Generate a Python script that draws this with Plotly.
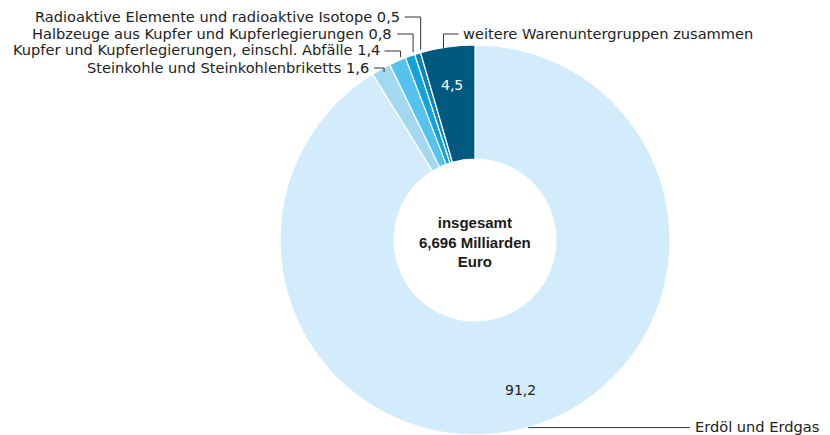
import math
import plotly.graph_objects as go

# Data (clockwise from 12 o'clock)
categories = [
    "Erdöl und Erdgas",
    "Steinkohle und Steinkohlenbriketts",
    "Kupfer und Kupferlegierungen, einschl. Abfälle",
    "Halbzeuge aus Kupfer und Kupferlegierungen",
    "Radioaktive Elemente und radioaktive Isotope",
    "weitere Warenuntergruppen zusammen",
]
values = [91.2, 1.6, 1.4, 0.8, 0.5, 4.5]
value_labels = ["91,2", "1,6", "1,4", "0,8", "0,5", "4,5"]
colors = ["#d2ecfc", "#a2d9f1", "#58c2ee", "#12a2dc", "#0a86b8", "#005a80"]
center_text = "insgesamt<br>6,696 Milliarden<br>Euro"

W, H = 830, 435
CX, CY, R = 475, 240, 195
HOLE = 0.415
FONT = "DejaVu Sans, Liberation Sans, sans-serif"
BFONT = "Liberation Sans, Arial, sans-serif"
FS = 14.6
TXT = "#222222"

fig = go.Figure(go.Pie(
    labels=categories, values=values, sort=False,
    direction="clockwise", rotation=0,
    hole=HOLE, textinfo="none", hoverinfo="label+value",
    marker=dict(colors=colors, line=dict(color="white", width=1.2)),
    domain=dict(x=[(CX - R) / W, (CX + R) / W], y=[1 - (CY + R) / H, 1 - (CY - R) / H]),
    showlegend=False,
))

total = sum(values)
mids = []
cum = 0
for v in values:
    mids.append((cum + v / 2) / total * 2 * math.pi)
    cum += v


def pt(ang, r):
    # clockwise from 12 o'clock, pixel coords
    return CX + r * math.sin(ang), CY - r * math.cos(ang)


def px(x):
    return x / W


def py(y):
    return 1 - y / H


annotations = []
shapes = []

# center text
annotations.append(dict(x=px(CX), y=py(CY + 2), xref="paper", yref="paper", text="<b>" + center_text + "</b>",
                        showarrow=False, font=dict(family=BFONT, size=15, color="#1a1a1a"), align="center"))

# inner value labels
for i, col in [(5, "white"), (0, TXT)]:
    x, y = pt(mids[i], 0.855 * R)
    annotations.append(dict(x=px(x), y=py(y), xref="paper", yref="paper", text=value_labels[i],
                            showarrow=False, font=dict(family=FONT, size=14, color=col)))

line_col = "#333333"

# left labels for small slices
label_y = {4: 16, 3: 33, 2: 50, 1: 67}
for i in [1, 2, 3, 4]:
    ax, ay = pt(mids[i], R)
    ly = label_y[i]
    vx = ax + 3
    tx_end = vx - 20 if i != 1 else vx - 14
    annotations.append(dict(x=px(tx_end), y=py(ly), xref="paper", yref="paper",
                            text=categories[i] + " " + value_labels[i], showarrow=False,
                            xanchor="right", yanchor="middle", borderpad=0,
                            font=dict(family=FONT, size=FS, color=TXT)))
    path = f"M {px(tx_end + 4)} {py(ly + 1)} L {px(vx)} {py(ly + 1)} L {px(vx)} {py(ay - 4 if i != 1 else ly + 5)}"
    shapes.append(dict(type="path", xref="paper", yref="paper", path=path,
                       line=dict(color=line_col, width=1)))

# weitere label
ax, ay = pt(mids[5], R)
vx = ax - 4
ly = 34
annotations.append(dict(x=px(vx + 18), y=py(ly), xref="paper", yref="paper",
                        text=categories[5], showarrow=False, xanchor="left", yanchor="middle", borderpad=0,
                        font=dict(family=FONT, size=FS, color=TXT)))
shapes.append(dict(type="path", xref="paper", yref="paper",
                   path=f"M {px(vx + 15)} {py(ly)} L {px(vx)} {py(ly)} L {px(vx)} {py(ay + 1)}",
                   line=dict(color=line_col, width=1)))

# Erdöl label
ax, ay = pt(mids[0], R)
shapes.append(dict(type="line", xref="paper", yref="paper", x0=px(ax), y0=py(ay), x1=px(690), y1=py(ay),
                   line=dict(color=line_col, width=1)))
annotations.append(dict(x=px(694), y=py(ay - 1), xref="paper", yref="paper", text=categories[0],
                        showarrow=False, xanchor="left", yanchor="middle", borderpad=0,
                        font=dict(family=FONT, size=FS, color=TXT)))

fig.update_layout(width=W, height=H, margin=dict(l=0, r=0, t=0, b=0),
                  paper_bgcolor="white", plot_bgcolor="white",
                  annotations=annotations, shapes=shapes)
fig.write_html("out.html", config={"displayModeBar": False},
               post_script="document.body.style.margin='0';document.body.style.overflow='hidden';")
